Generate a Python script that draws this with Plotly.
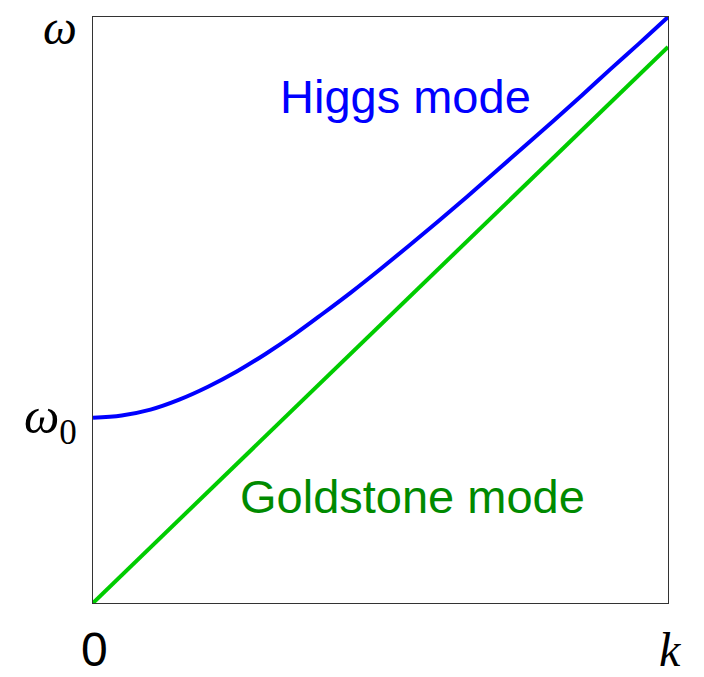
import plotly.graph_objects as go

# Wavenumber samples (k normalised to the axis span)
k = [0.0, 0.05, 0.1, 0.15, 0.2, 0.25, 0.3, 0.35, 0.4, 0.45, 0.5,
     0.55, 0.6, 0.65, 0.7, 0.75, 0.8, 0.85, 0.9, 0.95, 1.0]
# Gapped (Higgs) branch, starts at omega_0
omega_higgs = [0.316, 0.320, 0.330, 0.347, 0.369, 0.395, 0.425, 0.458, 0.494, 0.531, 0.570,
               0.610, 0.651, 0.693, 0.736, 0.779, 0.822, 0.866, 0.911, 0.955, 1.000]
# Gapless (Goldstone) branch, linear in k
k_goldstone = [0.0, 1.0]
omega_goldstone = [0.0, 0.949]

higgs_color = "#0000ff"
gold_line = "#00cc00"
gold_text = "#008a00"
sans = "Liberation Sans, sans-serif"
serif = "Liberation Serif, DejaVu Serif, serif"

fig = go.Figure()
fig.add_trace(go.Scatter(x=k, y=omega_higgs, mode="lines",
                         line=dict(color=higgs_color, width=4, shape="spline"),
                         hoverinfo="skip", showlegend=False))
fig.add_trace(go.Scatter(x=k_goldstone, y=omega_goldstone, mode="lines",
                         line=dict(color=gold_line, width=4),
                         hoverinfo="skip", showlegend=False))

axis_common = dict(range=[0, 1], showgrid=False, zeroline=False, showticklabels=False,
                   ticks="", showline=True, linecolor="#333333", linewidth=1, mirror=True)

fig.update_layout(
    width=704, height=677,
    margin=dict(l=93, r=36, t=17, b=74),
    paper_bgcolor="white", plot_bgcolor="white",
    xaxis=axis_common, yaxis=axis_common,
)

# convert page pixels to paper fractions of the plotting area
def px_x(p):
    return (p - 93) / 575

def px_y(p):
    return (603 - p) / 586

def label(xp, yp, text, family, color, size=47, xanchor="center", yanchor="middle"):
    fig.add_annotation(x=px_x(xp), y=px_y(yp), xref="paper", yref="paper",
                       text=text, showarrow=False, xanchor=xanchor, yanchor=yanchor,
                       borderpad=0, font=dict(family=family, size=size, color=color))

label(405, 96, "Higgs mode", sans, higgs_color)
label(412, 496, "Goldstone mode", sans, gold_text)
label(60, 0, "<i>ω</i>", serif, "black", 48, yanchor="top")
label(50, 420, "<i>ω</i><sub>0</sub>", serif, "black", 50)
label(94, 677, "0", sans, "black", 48, yanchor="bottom")
label(670, 677, "<i>k</i>", serif, "black", 48, yanchor="bottom")

fig.write_html("out.html")
